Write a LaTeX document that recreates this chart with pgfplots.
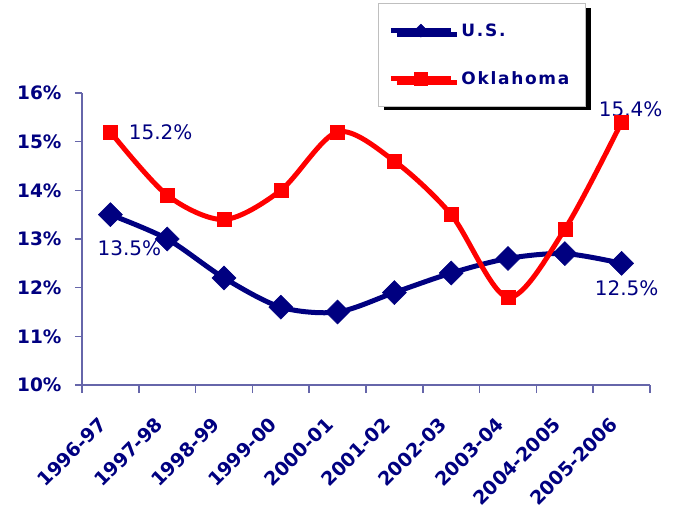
\documentclass[border=0pt]{standalone}
\usepackage{fontspec}
\setmainfont{DejaVu Sans}
\newfontfamily\legfont[LetterSpace=10]{DejaVu Sans}
\usepackage{pgfplots}
\pgfplotsset{compat=1.18}
\usetikzlibrary{shadows}
\definecolor{navyc}{RGB}{0,0,128}
\definecolor{axc}{RGB}{102,102,170}
\definecolor{redc}{RGB}{255,0,0}
\tikzset{xlab/.style={xshift=-13pt, yshift=-31pt, rotate=45, anchor=north east, inner sep=0pt, text=navyc,
  font=\bfseries\fontsize{19}{20}\selectfont}}
\begin{document}
\begin{tikzpicture}[x=1pt,y=1pt]
\path[use as bounding box] (-82,-129) rectangle (595,385);
\begin{axis}[
  at={(0,0)}, anchor=south west,
  scale only axis, width=568pt, height=292pt,
  xmin=-0.5, xmax=9.5, ymin=10, ymax=16,
  clip=false,
  axis x line*=bottom, axis y line*=left,
  axis line style={axc, line width=1.5pt},
  xtick={0,...,9},
  xticklabels={},
  major x tick style={draw=none},
  minor xtick={-0.5,0.5,1.5,2.5,3.5,4.5,5.5,6.5,7.5,8.5,9.5},
  minor tick length=8pt,
  major tick length=7pt,
  tick align=outside,
  tick style={axc, line width=1.5pt},
  ytick={10,11,12,13,14,15,16},
  yticklabels={10\%,11\%,12\%,13\%,14\%,15\%,16\%},
  y tick label style={font=\bfseries\fontsize{18.5}{20}\selectfont, text=navyc, xshift=-10pt},
  legend style={at={(0.521,1.308)}, anchor=north west, draw=gray!50, line width=1pt, fill=white,
    drop shadow={shadow xshift=6pt, shadow yshift=-4pt, fill=black, opacity=1},
    inner xsep=10pt, inner ysep=18pt, row sep=30pt,
    font=\legfont\bfseries\fontsize{17}{18}\selectfont, text=navyc},
  legend cell align=left,
  legend image code/.code={\draw[mark repeat=2, mark phase=2, #1] plot coordinates {(0pt,0pt) (30pt,0pt) (60pt,0pt)};},
]
\addplot[navyc, line width=5pt, smooth, tension=0.5, mark=square*, mark size=8.5pt,
  mark options={rotate=45, solid, line width=0.5pt},
  legend image post style={mark size=4.6pt}]
  coordinates {(0,13.5) (1,13.0) (2,12.2) (3,11.6) (4,11.5) (5,11.9) (6,12.3) (7,12.6) (8,12.7) (9,12.5)};
\addlegendentry{\hspace{6pt}\makebox[112pt][l]{U.S.}}
\addplot[redc, line width=5pt, smooth, tension=0.5, mark=square*, mark size=7pt,
  mark options={solid, line width=0.5pt},
  legend image post style={mark size=6.5pt}]
  coordinates {(0,15.2) (1,13.9) (2,13.4) (3,14.0) (4,15.2) (5,14.6) (6,13.5) (7,11.8) (8,13.2) (9,15.4)};
\addlegendentry{\hspace{6pt}\makebox[112pt][l]{Oklahoma}}
\node[anchor=west, text=navyc, font=\fontsize{20}{22}\selectfont] at (axis cs:0,15.2) [xshift=15pt] {15.2\%};
\node[text=navyc, font=\fontsize{20}{22}\selectfont] at (axis cs:0,13.5) [xshift=19pt, yshift=-34pt] {13.5\%};
\node[text=navyc, font=\fontsize{20}{22}\selectfont] at (axis cs:9,12.5) [xshift=5pt, yshift=-25pt] {12.5\%};
\node[text=navyc, font=\fontsize{20}{22}\selectfont] at (axis cs:9,15.4) [xshift=9pt, yshift=13pt] {15.4\%};
\node[xlab] at (axis cs:0,10) {1996-97};
\node[xlab] at (axis cs:1,10) {1997-98};
\node[xlab] at (axis cs:2,10) {1998-99};
\node[xlab] at (axis cs:3,10) {1999-00};
\node[xlab] at (axis cs:4,10) {2000-01};
\node[xlab] at (axis cs:5,10) {2001-02};
\node[xlab] at (axis cs:6,10) {2002-03};
\node[xlab] at (axis cs:7,10) {2003-04};
\node[xlab] at (axis cs:8,10) {2004-2005};
\node[xlab] at (axis cs:9,10) {2005-2006};
\end{axis}
\end{tikzpicture}
\end{document}
